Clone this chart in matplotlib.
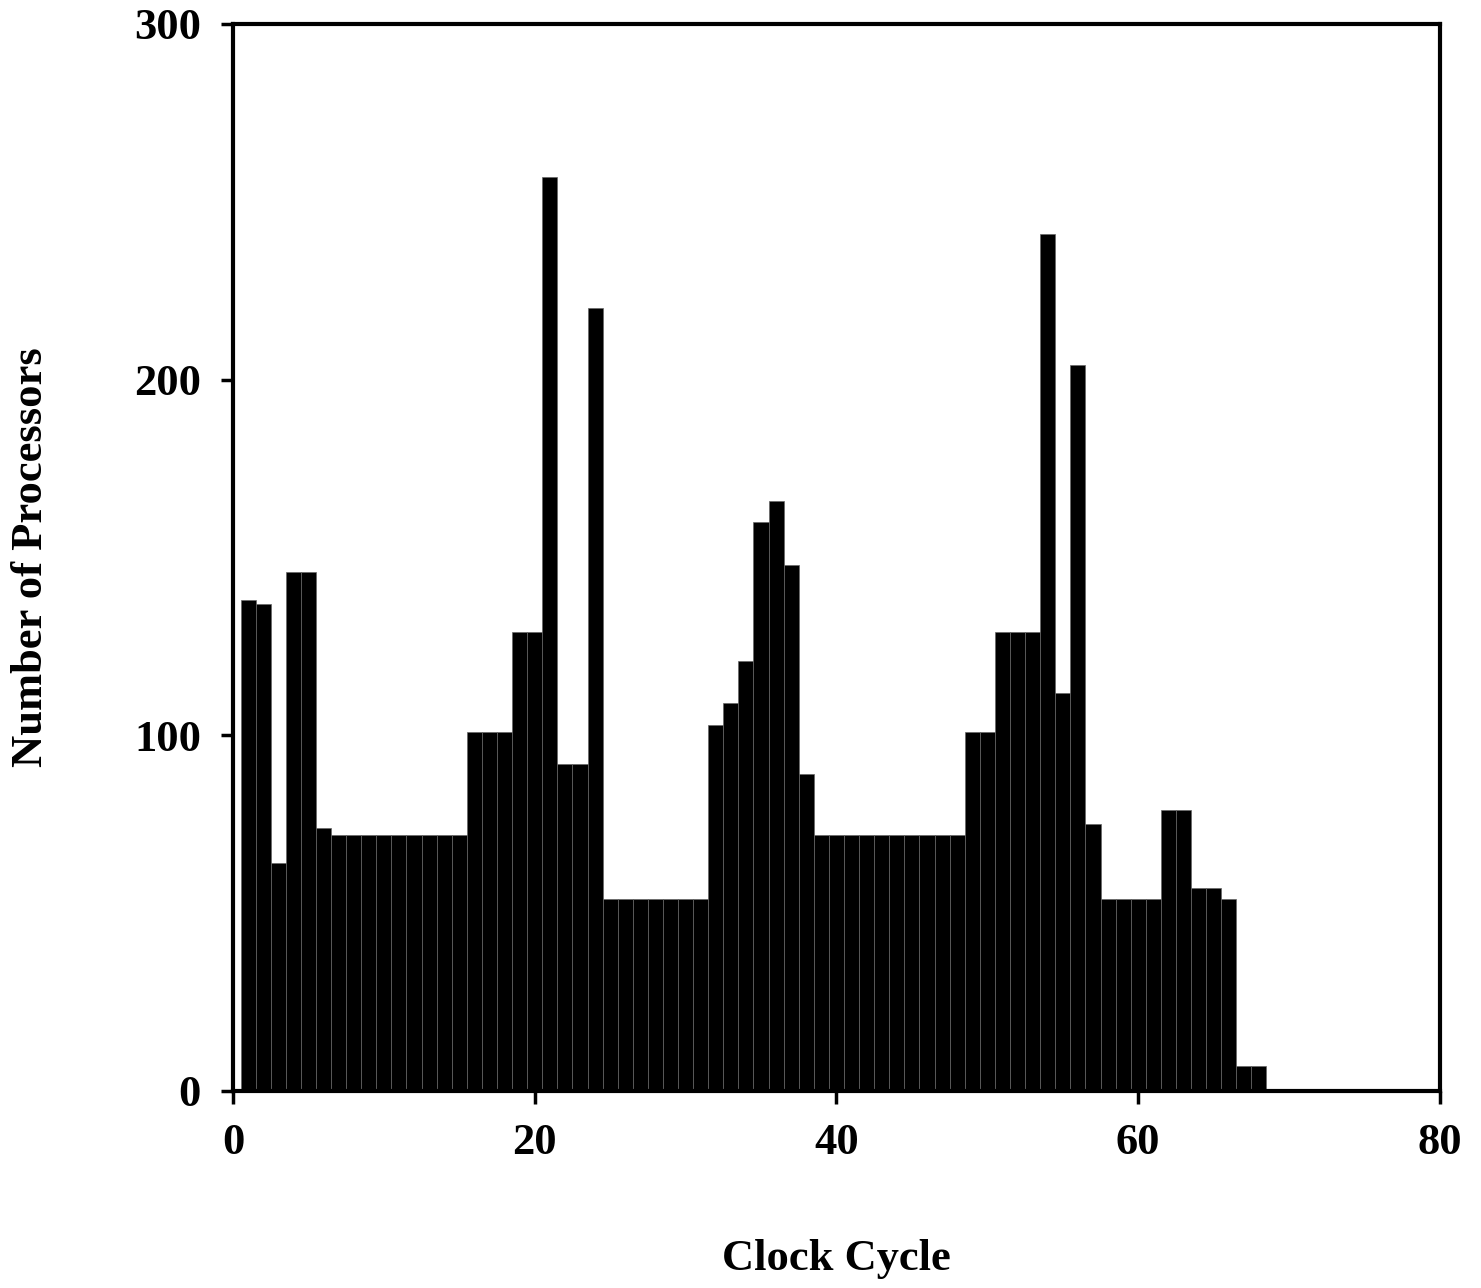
import matplotlib.pyplot as plt

# clock cycle (bar centres) and processor counts
cycles = list(range(1, 69))
processors = [
    138, 137, 64, 146, 146, 74, 72, 72, 72, 72,
    72, 72, 72, 72, 72, 101, 101, 101, 129, 129,
    257, 92, 92, 220, 54, 54, 54, 54, 54, 54,
    54, 103, 109, 121, 160, 166, 148, 89, 72, 72,
    72, 72, 72, 72, 72, 72, 72, 72, 101, 101,
    129, 129, 129, 241, 112, 204, 75, 54, 54, 54,
    54, 79, 79, 57, 57, 54, 7, 7,
]
x_ticks = [0, 20, 40, 60, 80]
y_ticks = [0, 100, 200, 300]

plt.rcParams['font.family'] = ['Liberation Serif', 'DejaVu Serif']
plt.rcParams['font.weight'] = 'bold'

fig = plt.figure(figsize=(14.81, 12.88), dpi=100)
ax = fig.add_axes([0.1573, 0.153, 0.815, 0.8284])

ax.bar(cycles, processors, width=1.0, color='black',
       edgecolor='#666666', linewidth=0.5)

ax.set_xlim(0, 80)
ax.set_ylim(0, 300)
ax.set_xticks(x_ticks)
ax.set_yticks(y_ticks)
ax.tick_params(direction='out', length=9, width=2.5, labelsize=32, pad=14)
for lab in ax.get_xticklabels() + ax.get_yticklabels():
    lab.set_fontweight('bold')
for s in ax.spines.values():
    s.set_linewidth(3)

ax.set_xlabel('Clock Cycle', fontsize=32, fontweight='bold', labelpad=55)
ax.set_ylabel('Number of Processors', fontsize=32, fontweight='bold', labelpad=60)

fig.savefig('out.png', dpi=100)
